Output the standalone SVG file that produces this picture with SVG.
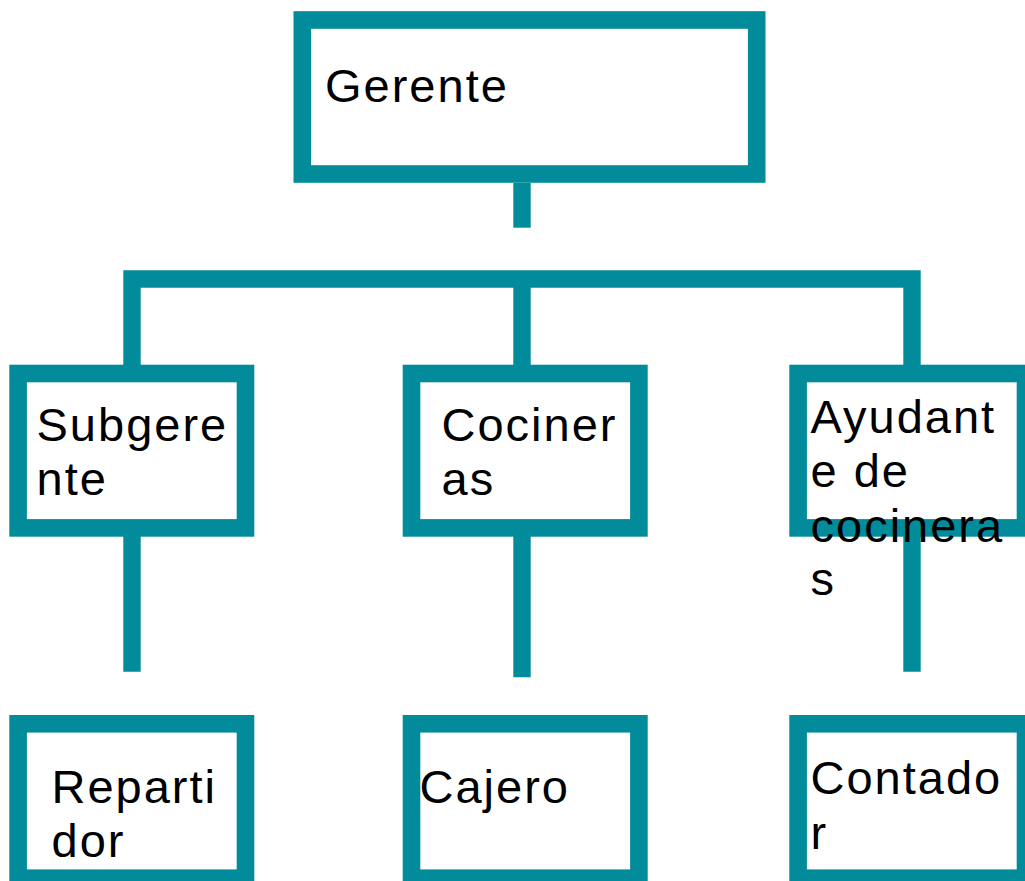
<svg xmlns="http://www.w3.org/2000/svg" width="1025" height="881" viewBox="0 0 1025 881">
<style>
.box{fill:#ffffff;stroke:#028b9b;stroke-width:17.6}
.con{fill:none;stroke:#028b9b;stroke-width:17.4;stroke-linecap:butt;stroke-linejoin:miter}
.lbl{font-family:"Liberation Sans",Arial,sans-serif;font-size:47px;letter-spacing:2px;fill:#000000}
</style>
<rect width="1025" height="881" fill="#ffffff"/>
<g id="connectors">
<path class="con" d="M522 183 V227.7"/>
<path class="con" d="M132 365 V279 H912 V365 M522 279 V365"/>
<path class="con" d="M132 536 V671.7"/>
<path class="con" d="M522 536 V677.3"/>
<path class="con" d="M912 536 V671.7"/>
</g>
<g id="gerente">
<rect class="box" x="302.3" y="20" width="454.4" height="154"/>
<text class="lbl" x="325" y="101.7">Gerente</text>
</g>
<g id="subgerente">
<rect class="box" x="18.1" y="373.5" width="227.4" height="154.4"/>
<text class="lbl" x="36.5" y="440.7">Subgere</text>
<text class="lbl" x="36.5" y="495">nte</text>
</g>
<g id="cocineras">
<rect class="box" x="411.5" y="373.5" width="227.4" height="154.4"/>
<text class="lbl" x="441.5" y="441">Cociner</text>
<text class="lbl" x="441.5" y="494.5">as</text>
</g>
<g id="ayudante">
<rect class="box" x="798.1" y="373.5" width="227.4" height="154.4"/>
<text class="lbl" x="810.5" y="433.3">Ayudant</text>
<text class="lbl" x="810.5" y="487.3">e de</text>
<text class="lbl" x="810.5" y="541.7">cocinera</text>
<text class="lbl" x="810.5" y="595">s</text>
</g>
<g id="repartidor">
<rect class="box" x="18.1" y="723.8" width="227.4" height="154.4"/>
<text class="lbl" x="51.5" y="802.7">Reparti</text>
<text class="lbl" x="51.5" y="856.7">dor</text>
</g>
<g id="cajero">
<rect class="box" x="411.5" y="723.8" width="227.4" height="154.4"/>
<text class="lbl" x="419.5" y="803">Cajero</text>
</g>
<g id="contador">
<rect class="box" x="798.1" y="723.8" width="227.4" height="154.4"/>
<text class="lbl" x="810.5" y="794.3">Contado</text>
<text class="lbl" x="810.5" y="849">r</text>
</g>
</svg>
